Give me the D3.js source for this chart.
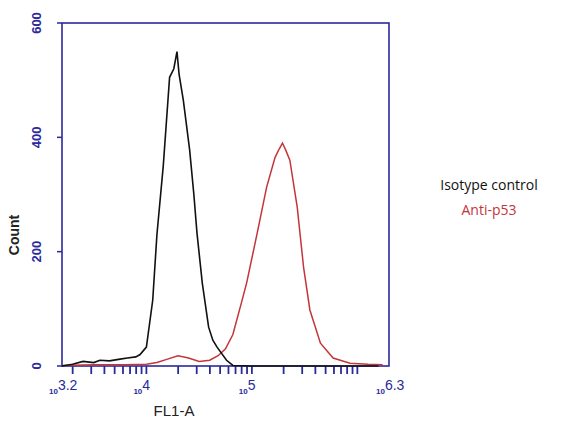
<!DOCTYPE html><html><head><meta charset="utf-8">
<script src="https://cdn.jsdelivr.net/npm/d3@7"></script>
<style>body{margin:0;background:#fff}</style></head><body><svg id="c" width="582" height="443"></svg>
<script>
const isoLog = [3.2,3.3,3.4,3.5,3.56,3.65,3.75,3.82,3.9,3.94,4.0,4.06,4.1,4.16,4.22,4.26,4.29,4.31,4.35,4.41,4.45,4.48,4.53,4.59,4.63,4.67,4.76,4.82,5.0,5.5,6.2];
const isoCount = [0,3,8,6,10,9,12,14,16,20,33,115,230,350,505,520,550,510,465,378,300,232,145,68,45,33,10,1,0,0,0];
const p53Log = [3.2,3.5,3.8,4.0,4.1,4.2,4.3,4.4,4.5,4.6,4.68,4.75,4.82,4.9,4.95,5.05,5.14,5.22,5.26,5.29,5.32,5.36,5.43,5.49,5.55,5.65,5.77,5.93,6.1,6.24];
const p53Count = [1,2,2,3,6,12,18,14,8,10,18,30,55,110,145,232,313,365,380,390,378,360,278,173,98,40,14,5,3,2];
const yTicks = [0,200,400,600];
const xLabels = [3.2,4,5,6.3];
const blue = "#2a2a9c";
const svg = d3.select("#c");
const x = d3.scaleLinear().domain([3.2,6.3]).range([62,389]);
const y = d3.scaleLinear().domain([0,600]).range([366,23]);
svg.append("rect").attr("x",62).attr("y",23).attr("width",327).attr("height",343).attr("fill","none").attr("stroke",blue).attr("stroke-width",1.6);
const mt=[];
for(let d=3;d<=6;d++)for(let m=1;m<=9;m++){const v=d+Math.log10(m);if(v>=3.2&&v<=6.3)mt.push(v);}
svg.selectAll(".mt").data(mt).enter().append("line").attr("x1",d=>x(d)).attr("x2",d=>x(d)).attr("y1",366).attr("y2",374).attr("stroke",blue).attr("stroke-width",1.8);
svg.selectAll(".yt").data(yTicks).enter().append("line").attr("x1",57).attr("x2",62).attr("y1",d=>y(d)).attr("y2",d=>y(d)).attr("stroke",blue).attr("stroke-width",1.5);
svg.selectAll(".yl").data(yTicks).enter().append("text").attr("transform",d=>`translate(41,${y(d)}) rotate(-90)`).attr("text-anchor","middle").attr("font-family","Liberation Sans, Arial").attr("font-size",13).attr("font-weight","bold").attr("fill",blue).text(d=>d);
const xl = svg.selectAll(".xl").data(xLabels).enter().append("text").attr("x",d=>x(d)-13).attr("y",392).attr("font-family","Liberation Sans, Arial").attr("font-weight","bold").attr("fill",blue);
xl.append("tspan").attr("font-size",8).attr("dy",2).text("10");
xl.append("tspan").attr("font-size",14).attr("font-weight","normal").attr("dy",-4).text(d=>d);
const line = d3.line().x(d=>x(d[0])).y(d=>y(d[1])).curve(d3.curveLinear);
svg.append("path").attr("d",line(p53Log.map((v,i)=>[v,p53Count[i]]))).attr("fill","none").attr("stroke","#c4353a").attr("stroke-width",1.5);
svg.append("path").attr("d",line(isoLog.map((v,i)=>[v,isoCount[i]]))).attr("fill","none").attr("stroke","#111").attr("stroke-width",1.6);
svg.append("text").attr("x",174).attr("y",416).attr("text-anchor","middle").attr("font-family","Liberation Sans, Arial").attr("font-size",15).attr("fill","#222").text("FL1-A");
svg.append("text").attr("transform","translate(19,235) rotate(-90)").attr("text-anchor","middle").attr("font-family","Liberation Sans, Arial").attr("font-size",14).attr("font-weight","bold").attr("fill","#222").text("Count");
svg.append("text").attr("x",489).attr("y",190).attr("text-anchor","middle").attr("font-family","Open Sans").attr("font-size",14).attr("fill","#111").text("Isotype control");
svg.append("text").attr("x",489).attr("y",215).attr("text-anchor","middle").attr("font-family","Open Sans").attr("font-size",14).attr("fill","#c4353a").text("Anti-p53");
</script></body></html>
